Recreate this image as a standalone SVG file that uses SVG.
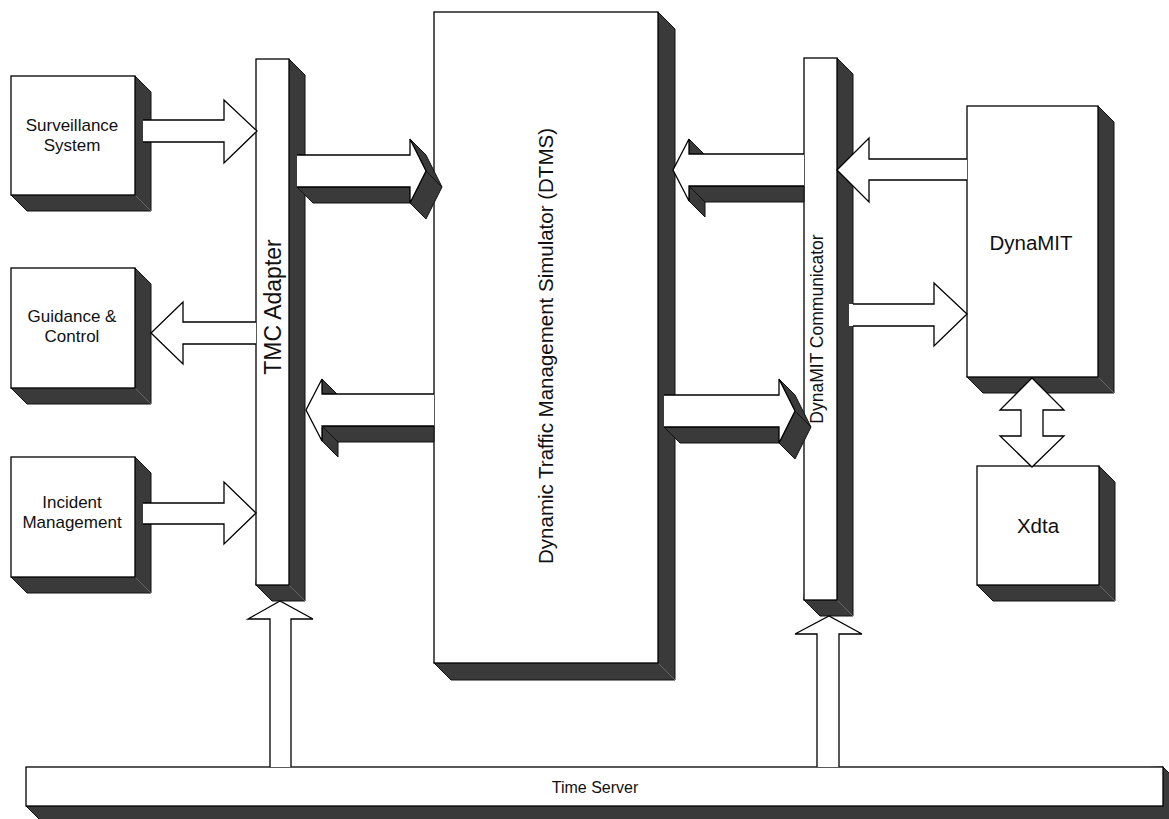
<svg xmlns="http://www.w3.org/2000/svg" width="1169" height="819" viewBox="0 0 1169 819">
<style>
.face{fill:#fff;stroke:#000;stroke-width:1.3;stroke-linejoin:miter}
.fill{fill:#fff;stroke:none}
.edge{fill:none;stroke:#000;stroke-width:1.3}
.shade{fill:#3a3a3a;stroke:#111;stroke-width:1;stroke-linejoin:round}
.crease{stroke:#666;stroke-width:1}
.lbl{font-family:"Liberation Sans",Arial,Helvetica,sans-serif;fill:#111;text-anchor:middle}
</style>
<rect width="1169" height="819" fill="#fff"/>

<g id="time-server">
  <polygon class="shade" points="1163,767 1180,784 1180,823 43,823 26,806"/>
  <rect class="face" x="26" y="767" width="1137" height="39"/>
  <text class="lbl" x="595" y="793" font-size="16">Time Server</text>
</g>

<g id="surveillance">
  <polygon class="shade" points="135,76 151,92 151,211 27,211 11,195"/>
  <line class="crease" x1="135" y1="195" x2="151" y2="211"/>
  <rect class="face" x="11" y="76" width="124" height="119"/>
  <text class="lbl" x="72" y="131" font-size="17">Surveillance</text>
  <text class="lbl" x="72" y="151" font-size="17">System</text>
</g>

<g id="guidance">
  <polygon class="shade" points="135,268 151,284 151,404 27,404 11,388"/>
  <line class="crease" x1="135" y1="388" x2="151" y2="404"/>
  <rect class="face" x="11" y="268" width="124" height="120"/>
  <text class="lbl" x="72" y="322" font-size="17">Guidance &amp;</text>
  <text class="lbl" x="72" y="342" font-size="17">Control</text>
</g>

<g id="incident">
  <polygon class="shade" points="135,457 151,473 151,593 27,593 11,577"/>
  <line class="crease" x1="135" y1="577" x2="151" y2="593"/>
  <rect class="face" x="11" y="457" width="124" height="120"/>
  <text class="lbl" x="72" y="508" font-size="17">Incident</text>
  <text class="lbl" x="72" y="528" font-size="17">Management</text>
</g>

<g id="tmc-adapter">
  <polygon class="shade" points="289,59 305,75 305,601 272,601 256,585"/>
  <line class="crease" x1="289" y1="585" x2="305" y2="601"/>
  <rect class="face" x="256" y="59" width="33" height="526"/>
  <text class="lbl" transform="translate(280.5,307) rotate(-90)" font-size="23">TMC Adapter</text>
</g>

<g id="dtms">
  <polygon class="shade" points="658,12 675,29 675,680 451,680 434,663"/>
  <line class="crease" x1="658" y1="663" x2="675" y2="680"/>
  <rect class="face" x="434" y="12" width="224" height="651"/>
  <text class="lbl" transform="translate(553,346) rotate(-90)" font-size="20.5">Dynamic Traffic Management Simulator (DTMS)</text>
</g>

<g id="dynamit-communicator">
  <polygon class="shade" points="837,58 853,74 853,616 820,616 804,600"/>
  <line class="crease" x1="837" y1="600" x2="853" y2="616"/>
  <rect class="face" x="804" y="58" width="33" height="542"/>
</g>

<g id="dynamit">
  <polygon class="shade" points="1098,106 1114,122 1114,393 983,393 967,377"/>
  <line class="crease" x1="1098" y1="377" x2="1114" y2="393"/>
  <rect class="face" x="967" y="106" width="131" height="271"/>
  <text class="lbl" x="1031" y="250" font-size="20.5">DynaMIT</text>
</g>

<g id="xdta">
  <polygon class="shade" points="1099,466 1115,482 1115,601 993,601 977,585"/>
  <line class="crease" x1="1099" y1="585" x2="1115" y2="601"/>
  <rect class="face" x="977" y="466" width="122" height="119"/>
  <text class="lbl" x="1038" y="533" font-size="20.5">Xdta</text>
</g>

<g id="connectors">
  <!-- Surveillance -> TMC -->
  <polygon class="fill" points="143,120 224,120 224,100 257,131 224,163 224,142 143,142"/>
  <polyline class="edge" points="143,120 224,120 224,100 257,131 224,163 224,142 143,142"/>
  <!-- TMC -> Guidance -->
  <polygon class="fill" points="256,322 183,322 183,302 151,333 183,364 183,344 256,344"/>
  <polyline class="edge" points="256,322 183,322 183,302 151,333 183,364 183,344 256,344"/>
  <!-- Incident -> TMC -->
  <polygon class="fill" points="143,503 224,503 224,482 256,513 224,544 224,524 143,524"/>
  <polyline class="edge" points="143,503 224,503 224,482 256,513 224,544 224,524 143,524"/>

  <!-- TMC -> DTMS (3D) -->
  <polygon class="shade" points="297,187 410,187 426,203 313,203"/>
  <polygon class="shade" points="410,139 426,171 442,187 426,155"/>
  <polygon class="shade" points="426,171 410,203 426,219 442,187"/>
  <polygon class="fill" points="297,155 410,155 410,139 426,171 410,203 410,187 297,187"/>
  <polyline class="edge" points="297,155 410,155 410,139 426,171 410,203 410,187 297,187"/>

  <!-- DTMS -> TMC (3D) -->
  <polygon class="shade" points="322,379 338,395 338,410 322,394"/>
  <polygon class="shade" points="322,426 434,426 434,442 338,442"/>
  <polygon class="shade" points="322,426 322,441 338,457 338,442"/>
  <polygon class="fill" points="434,394 322,394 322,379 306,410 322,441 322,426 434,426"/>
  <polyline class="edge" points="434,394 322,394 322,379 306,410 322,441 322,426 434,426"/>

  <!-- Communicator -> DTMS (3D) -->
  <polygon class="shade" points="689,139 705,155 705,170 689,154"/>
  <polygon class="shade" points="689,186 804,186 804,202 705,202"/>
  <polygon class="shade" points="689,186 689,201 705,217 705,202"/>
  <polygon class="fill" points="804,154 689,154 689,139 673,170 689,201 689,186 804,186"/>
  <polyline class="edge" points="804,154 689,154 689,139 673,170 689,201 689,186 804,186"/>

  <!-- DTMS -> Communicator (3D) -->
  <polygon class="shade" points="664,427 779,427 795,443 680,443"/>
  <polygon class="shade" points="779,379 795,411 811,427 795,395"/>
  <polygon class="shade" points="795,411 779,443 795,459 811,427"/>
  <polygon class="fill" points="664,395 779,395 779,379 795,411 779,443 779,427 664,427"/>
  <polyline class="edge" points="664,395 779,395 779,379 795,411 779,443 779,427 664,427"/>

  <!-- DynaMIT -> Communicator -->
  <polygon class="fill" points="967,159 869,159 869,138 837,170 869,202 869,180 967,180"/>
  <polyline class="edge" points="967,159 869,159 869,138 837,170 869,202 869,180 967,180"/>
  <!-- Communicator -> DynaMIT -->
  <polygon class="fill" points="849,304 934,304 934,283 967,314 934,346 934,326 849,326"/>
  <polyline class="edge" points="853,304 934,304 934,283 967,314 934,346 934,326 853,326"/>

  <!-- DynaMIT <-> Xdta -->
  <polygon class="face" points="1032,378 1064,410 1043,410 1043,436 1064,436 1032,467 1000,436 1021,436 1021,410 1000,410"/>

  <!-- Time Server -> TMC -->
  <polygon class="fill" points="270,767 270,619 248,619 280,601 313,619 291,619 291,767"/>
  <polyline class="edge" points="270,767 270,619 248,619 280,601 313,619 291,619 291,767"/>
  <!-- Time Server -> Communicator -->
  <polygon class="fill" points="817,767 817,634 795,634 829,616 862,634 839,634 839,767"/>
  <polyline class="edge" points="817,767 817,634 795,634 829,616 862,634 839,634 839,767"/>
</g>

<text class="lbl" transform="translate(823,329) rotate(-90)" font-size="17.5">DynaMIT Communicator</text>
</svg>
